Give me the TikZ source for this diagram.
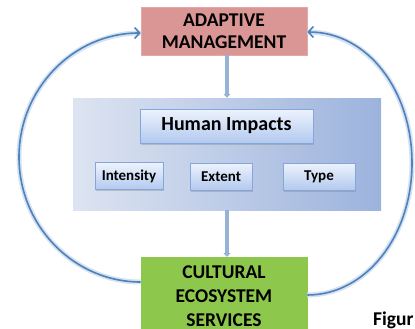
\documentclass[tikz,border=0pt]{standalone}
\usepackage{fontspec}
\setmainfont{Carlito}
\usepackage{tikz}
\usetikzlibrary{arrows.meta,calc}
\usetikzlibrary{positioning,shadows}

\definecolor{mgmtred}{HTML}{D99694}
\definecolor{mgmtline}{HTML}{E3A9A7}
\definecolor{cesgreen}{HTML}{8DC84C}
\definecolor{panelleft}{HTML}{DDE4F1}
\definecolor{panelright}{HTML}{9CB3DD}
\definecolor{boxtop}{HTML}{EDF3FD}
\definecolor{boxbottom}{HTML}{B3C9EF}
\definecolor{boxline}{HTML}{86A6D9}
\definecolor{flowblue}{HTML}{95B3D7}
\definecolor{loopblue}{HTML}{4F81BD}
\definecolor{loopglow}{HTML}{D5E2F2}

\begin{document}
\begin{tikzpicture}[x=1pt, y=-1pt,
    bigbox/.style={draw=#1, line width=0.6pt, minimum width=166pt, align=center,
      font=\fontsize{19.5}{22}\selectfont\bfseries},
    impactbox/.style={draw=boxline, line width=0.6pt, top color=boxtop, bottom color=boxbottom,
      drop shadow={shadow xshift=1pt, shadow yshift=-1.5pt, opacity=0.35}},
    flow/.style={-{Triangle[length=4pt, width=7pt]}, line width=3.5pt, draw=flowblue},
    loop/.style={-{Straight Barb[length=5pt, width=11pt]}, line width=1.6pt, draw=loopblue,
      preaction={draw=loopglow, line width=5pt, -}}]
  \useasboundingbox (0,0) rectangle (415,329);

  % Management at the top
  \node[bigbox=mgmtline, fill=mgmtred, minimum height=48pt] (adapt) at (224,31) {ADAPTIVE\\MANAGEMENT};

  % Panel of human impacts
  \node[minimum width=308pt, minimum height=112pt, left color=panelleft, right color=panelright] (panel) at (227,154) {};
  \node[impactbox, minimum width=173pt, minimum height=34pt, font=\fontsize{20}{22}\selectfont\bfseries] (human) at (226.5,126) {Human Impacts};
  \node[impactbox, minimum width=68pt, minimum height=27pt, font=\fontsize{15}{17}\selectfont\bfseries] (intensity) at (129,176) {Intensity};
  \node[impactbox, minimum width=62pt, minimum height=27pt, font=\fontsize{15}{17}\selectfont\bfseries] (extent) at (221,176.5) {Extent};
  \node[impactbox, minimum width=72pt, minimum height=27pt, font=\fontsize{15}{17}\selectfont\bfseries] (type) at (319,176.5) {Type};

  % Services at the bottom
  \node[bigbox=cesgreen, fill=cesgreen, anchor=north, inner ysep=8.5pt,
    font=\fontsize{19.5}{24}\selectfont\bfseries] (cultural) at (224,257) {CULTURAL\\ECOSYSTEM\\SERVICES};

  % Caption, cut off at the edge
  \node[anchor=base west, inner sep=0pt, font=\fontsize{19.5}{22}\selectfont\bfseries] (caption) at (373,325) {Figur};

  % Arrows
  \draw[flow] (panel.north |- adapt.south) -- (panel.north);
  \draw[flow] (panel.south) -- (panel.south |- cultural.north);
  \coordinate (leftmost) at (19,157);
  \coordinate (rightmost) at (412,163);
  \draw[loop] (cultural.west |- 0,282) .. controls (74,282) and (19,226) .. (leftmost)
    .. controls (19,89) and (73,33) .. (adapt.west |- 0,33);
  \draw[loop] (cultural.east |- 0,295) .. controls (366,295) and (412,236) .. (rightmost)
    .. controls (412,91) and (368,32) .. (adapt.east |- 0,32);
\end{tikzpicture}
\end{document}
